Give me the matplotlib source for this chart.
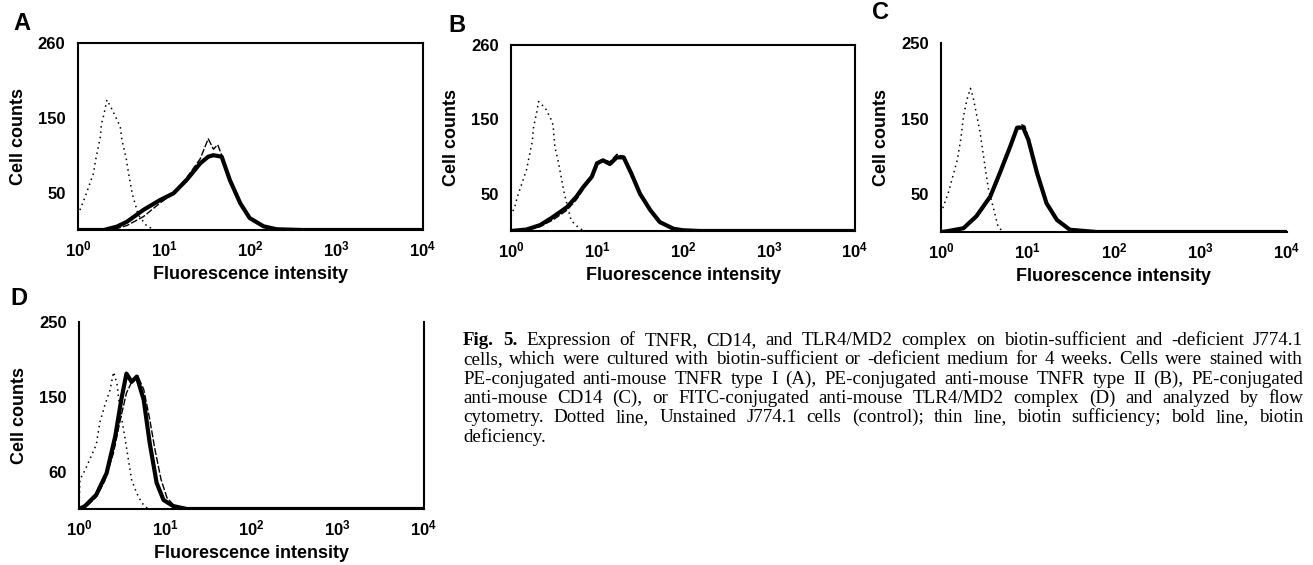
import numpy as np
import matplotlib
matplotlib.use('Agg')
import matplotlib.pyplot as plt
from matplotlib.ticker import FixedLocator, FixedFormatter

plt.rcParams['font.family'] = ['Liberation Sans', 'DejaVu Sans']
plt.rcParams['mathtext.fontset'] = 'custom'
plt.rcParams['mathtext.bf'] = 'Liberation Sans:bold'
plt.rcParams['mathtext.rm'] = 'Liberation Sans'

W, H = 1313, 565

# data: log10(fluorescence) and cell counts
a_ctrl_logx = [0.0, 0.054, 0.085, 0.18, 0.2, 0.26, 0.27, 0.30, 0.335, 0.40, 0.49, 0.51, 0.56, 0.586, 0.63, 0.70, 0.80, 0.90]
a_ctrl = [20, 36, 45, 76, 91, 125, 141, 154, 174, 160, 138, 120, 95, 76, 48, 20, 5, 0]
a_suff_logx = [0.0, 0.3, 0.45, 0.567, 0.76, 0.95, 1.107, 1.26, 1.416, 1.51, 1.57, 1.62, 1.666, 1.76, 1.88, 1.99, 2.15, 2.3, 2.6, 4.0]
a_suff = [0, 0, 2, 6, 18, 36, 49, 70, 95, 122, 108, 114, 100, 68, 36, 16, 5, 1, 0, 0]
a_def_logx = [0.0, 0.3, 0.45, 0.567, 0.76, 0.95, 1.107, 1.26, 1.416, 1.51, 1.57, 1.666, 1.76, 1.88, 1.99, 2.15, 2.3, 2.6, 4.0]
a_def = [0, 0, 4.5, 11, 27, 40, 49, 67, 89, 98, 100, 98, 67, 36, 16, 5, 1, 0, 0]

b_ctrl_logx = [0.0, 0.047, 0.074, 0.18, 0.25, 0.26, 0.30, 0.32, 0.40, 0.47, 0.49, 0.51, 0.55, 0.62, 0.70, 0.78, 0.85]
b_ctrl = [20, 34, 46, 82, 122, 138, 160, 174, 165, 149, 142, 113, 93, 50, 14, 5, 0]
b_suff_logx = [0.0, 0.18, 0.34, 0.49, 0.65, 0.76, 0.84, 0.94, 1.0, 1.07, 1.15, 1.23, 1.31, 1.4, 1.5, 1.62, 1.73, 1.89, 2.0, 2.2, 4.0]
b_suff = [0, 1, 6, 15, 28, 42, 56, 72, 88, 96, 93, 103, 100, 80, 52, 29, 12, 3, 1, 0, 0]
b_def_logx = [0.0, 0.18, 0.34, 0.49, 0.65, 0.76, 0.84, 0.94, 1.0, 1.07, 1.15, 1.23, 1.31, 1.4, 1.5, 1.62, 1.73, 1.89, 2.0, 2.2, 4.0]
b_def = [0, 2, 8, 19, 32, 46, 59, 73, 91, 95, 90, 99, 99, 77, 50, 28, 12, 3, 1, 0, 0]

c_ctrl_logx = [0.0, 0.085, 0.13, 0.19, 0.23, 0.26, 0.30, 0.34, 0.37, 0.45, 0.52, 0.55, 0.61, 0.66, 0.72]
c_ctrl = [25, 52, 71, 96, 124, 153, 175, 190, 179, 133, 78, 56, 30, 7, 0]
c_suff_logx = [0.0, 0.07, 0.26, 0.41, 0.57, 0.68, 0.80, 0.88, 0.93, 0.97, 1.01, 1.11, 1.22, 1.34, 1.49, 1.8, 4.0]
c_suff = [0, 1, 4, 19, 45, 76, 112, 138, 142, 140, 124, 80, 40, 17, 4, 0, 0]
c_def_logx = [0.0, 0.07, 0.26, 0.41, 0.57, 0.68, 0.80, 0.88, 0.95, 1.01, 1.11, 1.22, 1.34, 1.49, 1.8, 4.0]
c_def = [0, 1, 5, 21, 47, 78, 113, 138, 138, 122, 78, 38, 16, 3, 0, 0]

d_ctrl_logx = [0.0, 0.01, 0.07, 0.2, 0.24, 0.30, 0.36, 0.40, 0.44, 0.47, 0.53, 0.61, 0.67, 0.73, 0.8]
d_ctrl = [0, 39, 52, 86, 115, 139, 159, 183, 168, 137, 97, 39, 21, 8, 0]
d_suff_logx = [0.0, 0.1, 0.2, 0.3, 0.4, 0.48, 0.55, 0.62, 0.68, 0.75, 0.82, 0.88, 0.95, 1.02, 1.1, 1.2, 1.3, 4.0]
d_suff = [0, 5, 16, 38, 75, 120, 155, 172, 178, 160, 120, 80, 40, 15, 5, 1, 0, 0]
d_def_logx = [0.0, 0.07, 0.2, 0.32, 0.42, 0.49, 0.55, 0.61, 0.67, 0.75, 0.82, 0.9, 0.98, 1.09, 1.25, 4.0]
d_def = [0, 4, 19, 48, 97, 146, 181, 170, 177, 146, 88, 35, 12, 4, 0, 0]

x_ticks = [1, 10, 100, 1000, 10000]
x_tick_labels = [r'$\mathbf{10^{0}}$', r'$\mathbf{10^{1}}$', r'$\mathbf{10^{2}}$',
                 r'$\mathbf{10^{3}}$', r'$\mathbf{10^{4}}$']
y_ticks = [50, 150, 250]
y_tick_labels = {'A': ['50', '150', '260'], 'B': ['50', '150', '260'],
                 'C': ['50', '150', '250'], 'D': ['60', '150', '250']}

caption_lines = [
    "Fig. 5. Expression of TNFR, CD14, and TLR4/MD2 complex on biotin-sufficient and -deficient J774.1",
    "cells, which were cultured with biotin-sufficient or -deficient medium for 4 weeks. Cells were stained with",
    "PE-conjugated anti-mouse TNFR type I (A), PE-conjugated anti-mouse TNFR type II (B), PE-conjugated",
    "anti-mouse CD14 (C), or FITC-conjugated anti-mouse TLR4/MD2 complex (D) and analyzed by flow",
    "cytometry. Dotted line, Unstained J774.1 cells (control); thin line, biotin sufficiency; bold line, biotin",
    "deficiency.",
]

# panel boxes in pixels: left, top, right, bottom
boxes = {'A': (78, 43, 423, 230), 'B': (511, 45, 855, 231),
         'C': (941, 43, 1287, 232), 'D': (79, 322, 424, 509)}
letter_pos = {'A': (13, 30), 'B': (448, 32), 'C': (872, 19), 'D': (10, 305)}
spines_on = {'A': ['left', 'bottom', 'top', 'right'], 'B': ['left', 'bottom', 'top', 'right'],
             'C': ['left', 'bottom'], 'D': ['left', 'bottom', 'right']}

series = {
    'A': (a_ctrl_logx, a_ctrl, a_suff_logx, a_suff, a_def_logx, a_def),
    'B': (b_ctrl_logx, b_ctrl, b_suff_logx, b_suff, b_def_logx, b_def),
    'C': (c_ctrl_logx, c_ctrl, c_suff_logx, c_suff, c_def_logx, c_def),
    'D': (d_ctrl_logx, d_ctrl, d_suff_logx, d_suff, d_def_logx, d_def),
}

fig = plt.figure(figsize=(W / 100, H / 100), dpi=100)

for key, (l, t, r, b) in boxes.items():
    ax = fig.add_axes([l / W, 1 - b / H, (r - l) / W, (b - t) / H])
    cx, cy, sx, sy, dx, dy = series[key]
    ax.plot(10 ** np.array(cx), cy, color='black', lw=1.1, linestyle=(0, (1, 2.5)))
    ax.plot(10 ** np.array(sx), sy, color='black', lw=1.0, linestyle=(0, (5, 1.5)))
    ax.plot(10 ** np.array(dx), dy, color='black', lw=3.0, solid_joinstyle='round')
    ax.set_xscale('log')
    ax.set_xlim(1, 10000)
    ax.set_ylim(0, 250)
    ax.xaxis.set_major_locator(FixedLocator(x_ticks))
    ax.xaxis.set_major_formatter(FixedFormatter(x_tick_labels))
    ax.xaxis.set_minor_locator(FixedLocator([]))
    ax.set_yticks(y_ticks)
    ax.set_yticklabels(y_tick_labels[key])
    ax.tick_params(axis='both', which='both', length=0)
    ax.tick_params(axis='x', pad=7, labelsize=12)
    ax.tick_params(axis='y', pad=9, labelsize=12)
    for lab in ax.get_yticklabels():
        lab.set_fontweight('bold')
    for side in ['left', 'bottom', 'top', 'right']:
        ax.spines[side].set_visible(side in spines_on[key])
        ax.spines[side].set_linewidth(1.5)
    ax.set_xlabel('Fluorescence intensity', fontsize=13, fontweight='bold')
    ax.set_ylabel('Cell counts', fontsize=13, fontweight='bold')
    # label offsets in pixels from the axes box
    ax.xaxis.set_label_coords(0.5, -36 / (b - t))
    ax.yaxis.set_label_coords(-51 / (r - l), 0.5)
    lx, ly = letter_pos[key]
    fig.text(lx / W, 1 - ly / H, key, fontsize=17, fontweight='bold', ha='left', va='baseline')

# justified caption, placed word by word
renderer = fig.canvas.get_renderer()
cap_x0, cap_x1 = 463, 1303
cap_y0, cap_dy = 345, 19.3
cap_family = ['Liberation Serif', 'DejaVu Serif']

# pick a size so the longest line fills about 96% of the column
probes = [fig.text(0, 0, ln, fontsize=10, family=cap_family) for ln in caption_lines[:-1]]
probe_w = max(p.get_window_extent(renderer).width for p in probes)
for p in probes:
    p.remove()
cap_size = 10 * 0.965 * (cap_x1 - cap_x0) / probe_w

for i, line in enumerate(caption_lines):
    words = line.split(' ')
    texts = []
    for j, w in enumerate(words):
        bold = (i == 0 and j < 2)
        txt = fig.text(0, 0, w, fontsize=cap_size, family=cap_family,
                       fontweight='bold' if bold else 'normal', ha='left', va='baseline')
        texts.append(txt)
    widths = [txt.get_window_extent(renderer).width for txt in texts]
    if i < len(caption_lines) - 1 and len(words) > 1:
        gap = (cap_x1 - cap_x0 - sum(widths)) / (len(words) - 1)
    else:
        gap = cap_size * 100 / 72 * 0.28
    xpos = cap_x0
    ypos = cap_y0 + i * cap_dy
    for txt, wdt in zip(texts, widths):
        txt.set_position((xpos / W, 1 - ypos / H))
        xpos += wdt + gap

fig.savefig('out.png', dpi=100)
